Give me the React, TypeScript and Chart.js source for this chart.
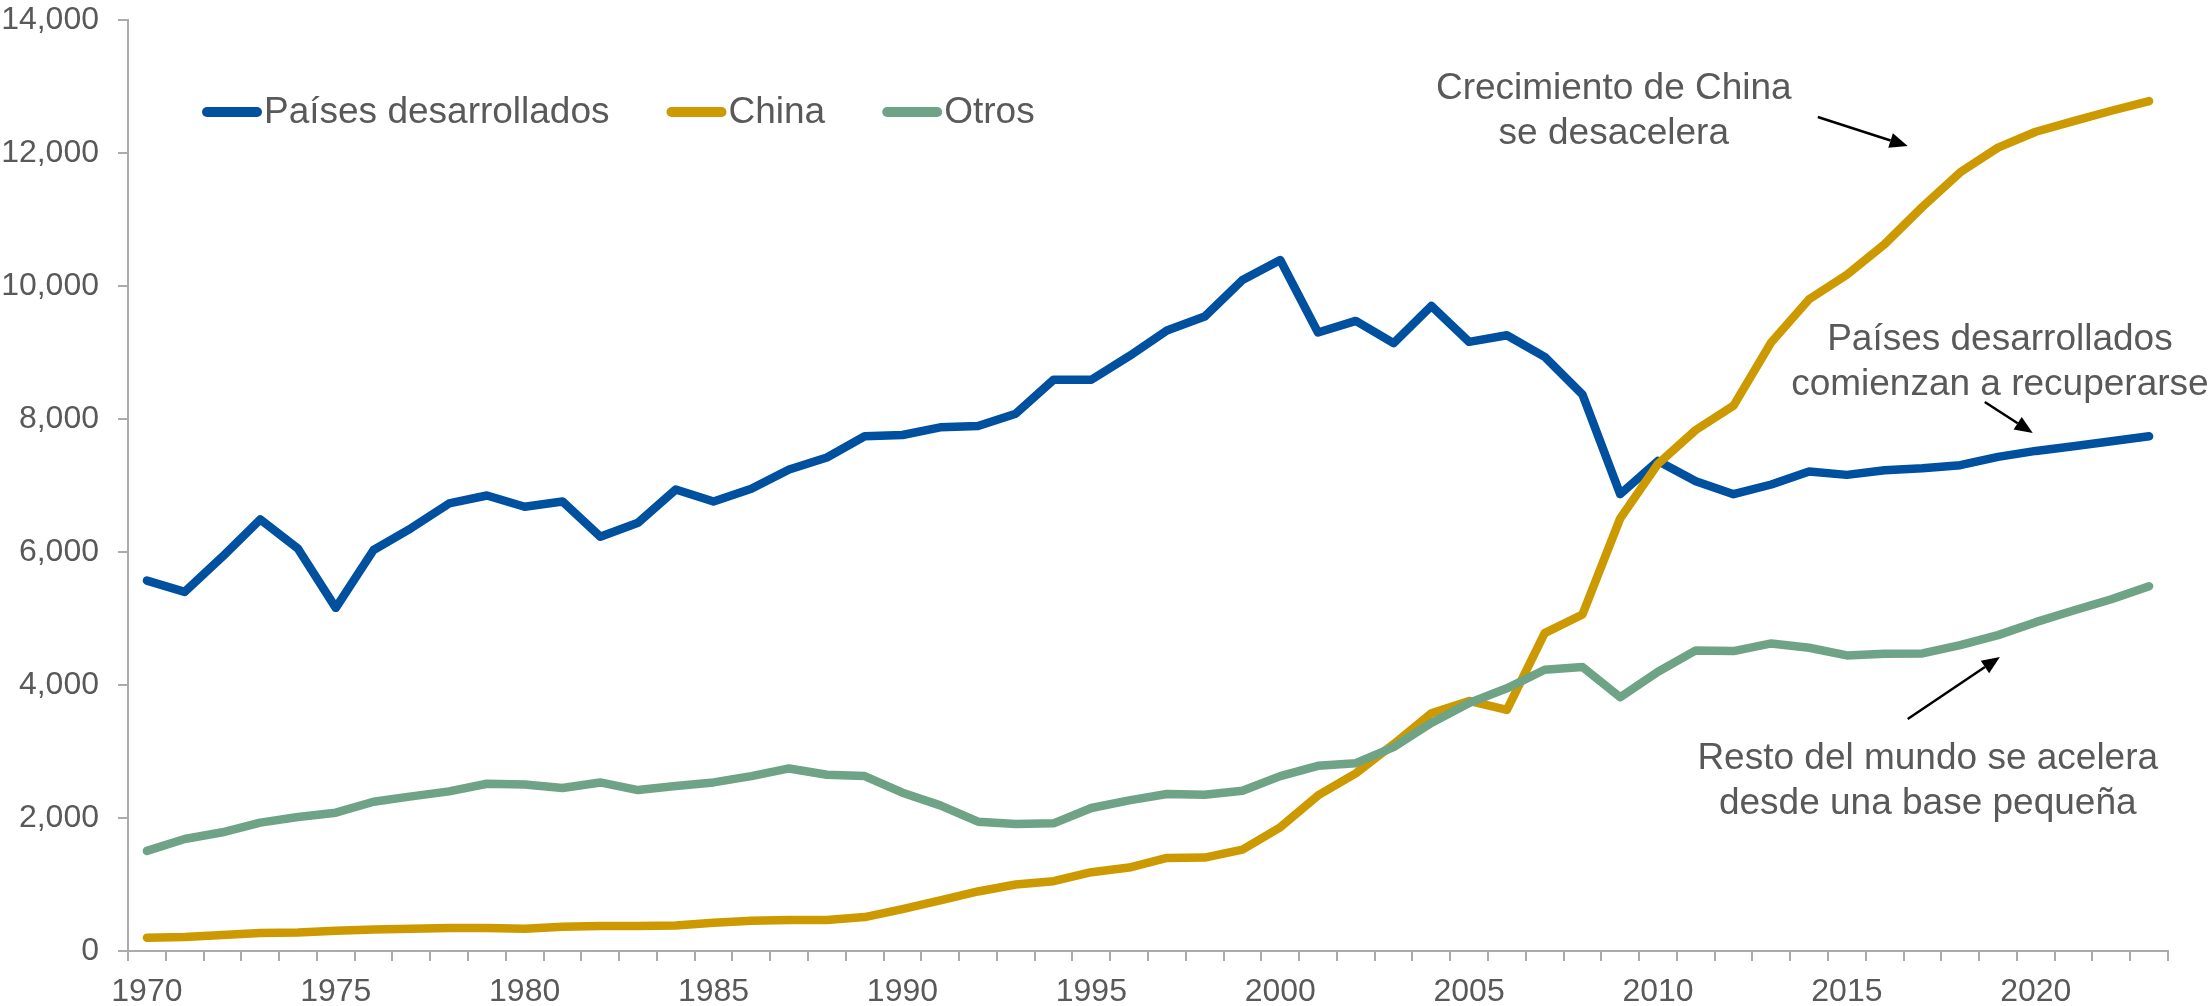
import React, { useEffect, useRef } from "react";
import { Chart, registerables } from "chart.js";

Chart.register(...registerables);

// ---------- data ----------
const years = [
  "1970", "1971", "1972", "1973", "1974", "1975", "1976", "1977", "1978", "1979",
  "1980", "1981", "1982", "1983", "1984", "1985", "1986", "1987", "1988", "1989",
  "1990", "1991", "1992", "1993", "1994", "1995", "1996", "1997", "1998", "1999",
  "2000", "2001", "2002", "2003", "2004", "2005", "2006", "2007", "2008", "2009",
  "2010", "2011", "2012", "2013", "2014", "2015", "2016", "2017", "2018", "2019",
  "2020", "2021", "2022", "2023",
];

const tickYears = ["1970", "1975", "1980", "1985", "1990", "1995", "2000", "2005", "2010", "2015", "2020"];

const desarrollados = [
  5570, 5400, 5930, 6490, 6050, 5160, 6030, 6360, 6730, 6850,
  6680, 6760, 6230, 6440, 6940, 6760, 6950, 7240, 7420, 7740,
  7760, 7875, 7895, 8080, 8590, 8590, 8945, 9330, 9540, 10090,
  10390, 9300, 9475, 9140, 9700, 9160, 9260, 8935, 8370, 6870,
  7370, 7065, 6870, 7015, 7210, 7160, 7230, 7260, 7305, 7430,
  7520, 7590, 7665, 7740,
];

const china = [
  200, 210, 240, 270, 280, 305, 325, 335, 345, 345,
  335, 365, 375, 375, 385, 425, 455, 465, 465, 510,
  630, 760, 895, 1000, 1050, 1185, 1255, 1400, 1405, 1525,
  1860, 2340, 2670, 3110, 3575, 3760, 3625, 4780, 5060, 6505,
  7325, 7835, 8200, 9155, 9800, 10170, 10630, 11190, 11710, 12080,
  12320, 12480, 12635, 12780,
];

const otros = [
  1505, 1685, 1785, 1930, 2015, 2080, 2245, 2325, 2400, 2515,
  2505, 2450, 2535, 2420, 2480, 2535, 2630, 2745, 2650, 2630,
  2380, 2190, 1945, 1910, 1920, 2150, 2265, 2360, 2350, 2410,
  2630, 2785, 2825, 3065, 3430, 3730, 3950, 4230, 4270, 3815,
  4200, 4520, 4510, 4625, 4560, 4445, 4470, 4475, 4600, 4750,
  4945, 5120, 5290, 5485,
];

const seriesLabels = ["Países desarrollados", "China", "Otros"];

// annotation texts anchored in data units (fractional year index, value)
const noteChina = ["Crecimiento de China", "se desacelera"];
const noteDesarrollados = ["Países desarrollados", "comienzan a recuperarse"];
const noteOtros = ["Resto del mundo se acelera", "desde una base pequeña"];

// ---------- style ----------
const FONT = '"Liberation Sans", Arial, Helvetica, sans-serif';
const TEXT = "#595959";
const AXIS = "#ABABAB";
const BLUE = "#0050A0";
const GOLD = "#CC9A00";
const GREEN = "#6FA386";

type Note = { lines: string[]; x: number; y: number };
type Arrow = { x1: number; y1: number; x2: number; y2: number };

const notes: Note[] = [
  { lines: noteChina, x: 38.83, y: 12962 },
  { lines: noteDesarrollados, x: 49.05, y: 9188 },
  { lines: noteOtros, x: 47.14, y: 2887 },
];

const arrows: Arrow[] = [
  { x1: 44.23, y1: 12541, x2: 46.61, y2: 12105 },
  { x1: 48.65, y1: 8256, x2: 49.92, y2: 7789 },
  { x1: 46.61, y1: 3489, x2: 49.05, y2: 4421 },
];

const overlayPlugin = {
  id: "overlay",
  afterDatasetsDraw(chart: any) {
    const ctx: CanvasRenderingContext2D = chart.ctx;
    const xs = chart.scales.x;
    const ys = chart.scales.y;
    ctx.save();

    // legend
    ctx.font = `37px ${FONT}`;
    ctx.textBaseline = "middle";
    ctx.textAlign = "left";
    let lx = 202;
    const ly = 112;
    chart.data.datasets.forEach((ds: any) => {
      ctx.strokeStyle = ds.borderColor;
      ctx.lineWidth = 10;
      ctx.lineCap = "round";
      ctx.beginPath();
      ctx.moveTo(lx + 5, ly);
      ctx.lineTo(lx + 55, ly);
      ctx.stroke();
      ctx.fillStyle = TEXT;
      ctx.fillText(ds.label, lx + 62, ly + 1);
      lx += 62 + ctx.measureText(ds.label).width + 57;
    });

    // annotation texts
    ctx.textAlign = "center";
    ctx.fillStyle = TEXT;
    notes.forEach((n) => {
      const cx = xs.getPixelForValue(n.x);
      const cy = ys.getPixelForValue(n.y);
      n.lines.forEach((t, i) => ctx.fillText(t, cx, cy + i * 45));
    });

    // arrows
    ctx.strokeStyle = "#000";
    ctx.fillStyle = "#000";
    ctx.lineWidth = 2.5;
    ctx.lineCap = "butt";
    arrows.forEach((a) => {
      const x1 = xs.getPixelForValue(a.x1);
      const y1 = ys.getPixelForValue(a.y1);
      const x2 = xs.getPixelForValue(a.x2);
      const y2 = ys.getPixelForValue(a.y2);
      const ang = Math.atan2(y2 - y1, x2 - x1);
      const hl = 18;
      const hw = 7.5;
      const bx = x2 - hl * Math.cos(ang);
      const by = y2 - hl * Math.sin(ang);
      ctx.beginPath();
      ctx.moveTo(x1, y1);
      ctx.lineTo(bx, by);
      ctx.stroke();
      ctx.beginPath();
      ctx.moveTo(x2, y2);
      ctx.lineTo(bx + hw * Math.sin(ang), by - hw * Math.cos(ang));
      ctx.lineTo(bx - hw * Math.sin(ang), by + hw * Math.cos(ang));
      ctx.closePath();
      ctx.fill();
    });

    ctx.restore();
  },
};

export default function App() {
  const canvasRef = useRef<HTMLCanvasElement | null>(null);

  useEffect(() => {
    if (!canvasRef.current) return;
    const chart = new Chart(canvasRef.current, {
      type: "line",
      data: {
        labels: years,
        datasets: [
          { label: seriesLabels[0], data: desarrollados, borderColor: BLUE, backgroundColor: BLUE, order: 3 },
          { label: seriesLabels[1], data: china, borderColor: GOLD, backgroundColor: GOLD, order: 2 },
          { label: seriesLabels[2], data: otros, borderColor: GREEN, backgroundColor: GREEN, order: 1 },
        ],
      },
      options: {
        responsive: false,
        animation: false,
        devicePixelRatio: 1,
        layout: { padding: { top: 20, right: 44, left: 0, bottom: 0 } },
        plugins: {
          legend: { display: false },
          tooltip: { enabled: false },
        },
        elements: {
          point: { radius: 0, hoverRadius: 0 },
          line: { borderWidth: 8.5, borderCapStyle: "round", borderJoinStyle: "round", tension: 0 },
        },
        scales: {
          x: {
            type: "category",
            offset: true,
            grid: {
              offset: true,
              drawOnChartArea: false,
              drawTicks: true,
              tickLength: 10,
              color: AXIS,
              lineWidth: 2,
            },
            border: { display: true, color: AXIS, width: 2 },
            ticks: {
              autoSkip: false,
              maxRotation: 0,
              minRotation: 0,
              padding: 12,
              color: TEXT,
              font: { family: FONT, size: 32 },
              callback: function (this: any, value: any) {
                const lab = this.getLabelForValue(value);
                return tickYears.includes(lab) ? lab : "";
              },
            },
            afterFit: (s: any) => {
              s.height = 55;
              s.paddingLeft = 0;
              s.paddingRight = 0;
            },
          },
          y: {
            min: 0,
            max: 14000,
            grid: {
              drawOnChartArea: false,
              drawTicks: true,
              tickLength: 10,
              color: AXIS,
              lineWidth: 2,
            },
            border: { display: true, color: AXIS, width: 2 },
            ticks: {
              stepSize: 2000,
              padding: 19,
              color: TEXT,
              font: { family: FONT, size: 32 },
              callback: (v: any) => Number(v).toLocaleString("en-US"),
            },
            afterFit: (s: any) => {
              s.width = 128;
              s.paddingTop = 0;
              s.paddingBottom = 0;
            },
          },
        },
      },
      plugins: [overlayPlugin],
    });
    return () => chart.destroy();
  }, []);

  return (
    <div style={{ position: "absolute", left: 0, top: 0, width: 2212, height: 1006, background: "#fff" }}>
      <canvas ref={canvasRef} width={2212} height={1006} style={{ display: "block", width: 2212, height: 1006 }} />
    </div>
  );
}
